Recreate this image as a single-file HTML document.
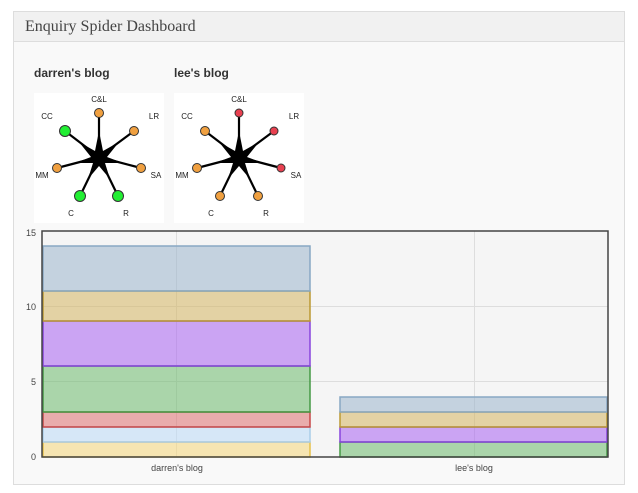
<!DOCTYPE html><html><head><style>
body{margin:0;width:638px;height:493px;background:#fff;font-family:"Liberation Sans",sans-serif;position:relative;overflow:hidden}
.panel{position:absolute;left:13px;top:11px;width:610px;height:472px;border:1px solid #ddd;background:#f9f9f9}
.hdr{height:29px;background:#f1f1f1;border-bottom:1px solid #ddd;font-family:"Liberation Serif",serif;font-size:16px;color:#444;line-height:30px;padding-left:11px}
.t{position:absolute;font-size:12px;font-weight:bold;color:#333}
</style></head><body>
<div class="panel"><div class="hdr">Enquiry Spider Dashboard</div></div>
<div class="t" style="left:34px;top:66px">darren's blog</div>
<div class="t" style="left:174px;top:66px">lee's blog</div>
<svg width="638" height="493" style="position:absolute;left:0;top:0" font-family="Liberation Sans, sans-serif">
<defs><g id="sp">
<rect x="-65" y="-64" width="130" height="130" fill="#fff"/>
<g stroke="#000" stroke-width="2.2">
<line x1="0" y1="0" x2="0" y2="-44"/><line x1="0" y1="0" x2="35" y2="-26"/><line x1="0" y1="0" x2="42" y2="11"/><line x1="0" y1="0" x2="19" y2="39"/><line x1="0" y1="0" x2="-19" y2="39"/><line x1="0" y1="0" x2="-42" y2="11"/><line x1="0" y1="0" x2="-34" y2="-26"/></g>
<polygon fill="#000" points="0,-26 4,-6 20,-15 8,0 24,6 6,6 11,22 0,9 -11,22 -6,6 -24,6 -8,0 -20,-15 -4,-6"/>
<g font-size="8" fill="#222" text-anchor="middle"><text x="0" y="-55">C&amp;L</text><text x="55" y="-38">LR</text><text x="57" y="21">SA</text><text x="27" y="59">R</text><text x="-28" y="59">C</text><text x="-57" y="21">MM</text><text x="-52" y="-38">CC</text></g>
</g></defs>
<use href="#sp" x="99" y="157"/><use href="#sp" x="239" y="157"/>
<g stroke="#333" stroke-width="1">
<circle cx="99" cy="113" r="4.5" fill="#f0a040"/><circle cx="134" cy="131" r="4.5" fill="#f0a040"/><circle cx="141" cy="168" r="4.5" fill="#f0a040"/><circle cx="118" cy="196" r="5.5" fill="#22ee33"/><circle cx="80" cy="196" r="5.5" fill="#22ee33"/><circle cx="57" cy="168" r="4.5" fill="#f0a040"/><circle cx="65" cy="131" r="5.5" fill="#22ee33"/>
<circle cx="239" cy="113" r="4" fill="#e84050"/><circle cx="274" cy="131" r="4" fill="#e84050"/><circle cx="281" cy="168" r="4" fill="#e84050"/><circle cx="258" cy="196" r="4.5" fill="#f0a040"/><circle cx="220" cy="196" r="4.5" fill="#f0a040"/><circle cx="197" cy="168" r="4.5" fill="#f0a040"/><circle cx="205" cy="131" r="4.5" fill="#f0a040"/>
</g>
<rect x="42" y="231" width="566" height="226" fill="#f5f5f5"/>
<g stroke="#ddd"><line x1="42" y1="381.5" x2="608" y2="381.5"/><line x1="42" y1="306.5" x2="608" y2="306.5"/><line x1="176.5" y1="231" x2="176.5" y2="457"/><line x1="474.5" y1="231" x2="474.5" y2="457"/></g>
<g stroke-width="1.5" fill-opacity="0.55">
<rect x="43" y="442" width="267" height="15" fill="#f5d77a" stroke="#e6c04a"/>
<rect x="43" y="427" width="267" height="15" fill="#bcdaf8" stroke="#aacde8"/>
<rect x="43" y="412" width="267" height="15" fill="#de7070" stroke="#c84848"/>
<rect x="43" y="366" width="267" height="46" fill="#6cba6c" stroke="#449944"/>
<rect x="43" y="321" width="267" height="45" fill="#a860f0" stroke="#8844dd"/>
<rect x="43" y="291" width="267" height="30" fill="#d4b460" stroke="#bb9933"/>
<rect x="43" y="246" width="267" height="45" fill="#9ab4cc" stroke="#88a8c4"/>
<rect x="340" y="442" width="267" height="15" fill="#6cba6c" stroke="#449944"/>
<rect x="340" y="427" width="267" height="15" fill="#a860f0" stroke="#8844dd"/>
<rect x="340" y="412" width="267" height="15" fill="#d4b460" stroke="#bb9933"/>
<rect x="340" y="397" width="267" height="15" fill="#9ab4cc" stroke="#88a8c4"/>
</g>
<rect x="42" y="231" width="566" height="226" fill="none" stroke="#444" stroke-width="1.5"/>
<g font-size="9" fill="#444" text-anchor="end"><text x="36" y="236">15</text><text x="36" y="310">10</text><text x="36" y="385">5</text><text x="36" y="460">0</text></g>
<g font-size="9" fill="#444" text-anchor="middle"><text x="177" y="471">darren's blog</text><text x="474" y="471">lee's blog</text></g>
</svg>
</body></html>
